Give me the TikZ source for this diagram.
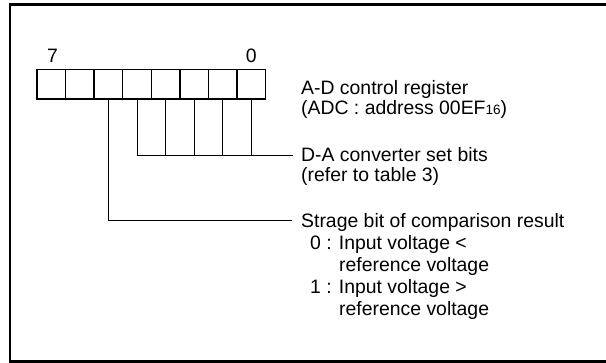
\documentclass[tikz,border=0pt]{standalone}
\usepackage{fontspec}
\setmainfont{Liberation Sans}
\begin{document}
\begin{tikzpicture}[x=1bp,y=-1bp,
  cell/.style={draw,line width=1.4bp,minimum width=28.6bp,minimum height=29.5bp,inner sep=0pt,outer sep=0pt},
  lbl/.style={anchor=base west,inner sep=0pt,font=\fontsize{19.4bp}{22bp}\selectfont},
  wire/.style={line width=0.9bp}]
\useasboundingbox (0,0) rectangle (606,362);
\draw[line width=2.4bp] (612,4.5) -- (10,4.5) -- (10,361.6) -- (612,361.6);
% register cells
\foreach \i [count=\k from 0] in {7,6,5,4,3,2,1,0}{
  \node[cell] (b\i) at ({51.3+28.59*\k},84.25) {};
}
\node[lbl,anchor=base] (n7) at (52.5,62) {7};
\node[lbl,anchor=base] (n0) at (251.2,62) {0};
% texts
\node[lbl] (t1) at (301,94) {A-D control register};
\node[lbl] (t2) at (301,114) {(ADC : address 00EF{\fontsize{13.5bp}{14bp}\selectfont 16})};
\node[lbl] (t3) at (301,161) {D-A converter set bits};
\node[lbl] (t4) at (301,181) {(refer to table 3)};
\node[lbl] (t5) at (301,227) {Strage bit of comparison result};
\node[lbl] (t6) at (310,249) {0 : Input voltage <};
\node[lbl] (t7) at (339,271) {reference voltage};
\node[lbl] (t8) at (310,293) {1 : Input voltage >};
\node[lbl] (t9) at (339,315) {reference voltage};
% connectors
\coordinate (da) at (293,155);
\coordinate (sb) at (292,220);
\foreach \i in {4,3,2,1,0}{
  \draw[wire] (b\i.south) -- (b\i.south |- da);
}
\draw[wire] (b4.south |- da) -- (da);
\draw[wire] (b5.south) |- (sb);
\end{tikzpicture}
\end{document}
